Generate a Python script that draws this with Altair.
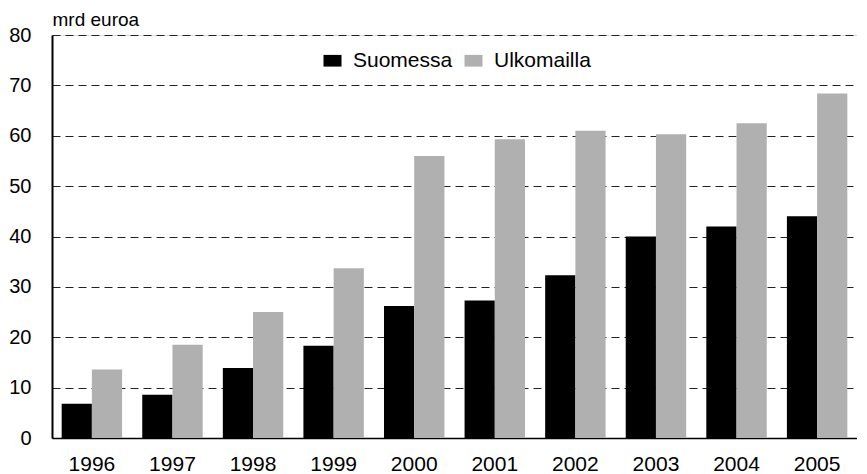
import altair as alt
import pandas as pd

years = ["1996", "1997", "1998", "1999", "2000", "2001", "2002", "2003", "2004", "2005"]
suomessa = [6.8, 8.6, 13.9, 18.3, 26.2, 27.3, 32.3, 40.0, 42.0, 44.0]
ulkomailla = [13.6, 18.5, 25.0, 33.7, 56.0, 59.3, 61.0, 60.3, 62.5, 68.4]
series = ["Suomessa", "Ulkomailla"]
colors = ["#000000", "#b0b0b0"]

rows = []
for i, y in enumerate(years):
    rows.append({"vuosi": y, "sarja": series[0], "arvo": suomessa[i]})
    rows.append({"vuosi": y, "sarja": series[1], "arvo": ulkomailla[i]})
df = pd.DataFrame(rows)

FONT = "Liberation Sans"

chart = alt.Chart(df).mark_bar().encode(
    x=alt.X("vuosi:N", sort=years, title=None,
            scale=alt.Scale(paddingInner=0.25, paddingOuter=0.12),
            axis=alt.Axis(labelAngle=0, ticks=False, domainColor="#000", domainWidth=1.5,
                          labelFontSize=21, labelColor="#000", labelPadding=15, labelFont=FONT)),
    xOffset=alt.XOffset("sarja:N", sort=series),
    y=alt.Y("arvo:Q", scale=alt.Scale(domain=[0, 80]),
            axis=alt.Axis(values=[0, 10, 20, 30, 40, 50, 60, 70, 80], ticks=False,
                          domainColor="#000", domainWidth=2,
                          grid=True, gridDash=[8, 5], gridColor="#222", gridWidth=1,
                          labelFontSize=20, labelColor="#000", labelPadding=21, labelFont=FONT,
                          title="mrd euroa", titleAngle=0, titleAlign="left", titleBaseline="alphabetic",
                          titleX=0, titleY=-10, titleFontSize=19, titleFontWeight="normal",
                          titleFont=FONT, titleColor="#000")),
    color=alt.Color("sarja:N", sort=series,
                    scale=alt.Scale(domain=series, range=colors),
                    legend=alt.Legend(title=None, orient="none", direction="horizontal",
                                      legendX=270, legendY=15,
                                      symbolType="M-1,-0.65H1V0.65H-1Z",
                                      symbolSize=324, symbolStrokeWidth=0,
                                      labelFontSize=21, labelFont=FONT, labelColor="#000",
                                      labelOffset=10, columnPadding=10, symbolOpacity=1)),
).properties(
    width=805, height=403,
    autosize=alt.AutoSizeParams(type="none"),
    padding={"left": 44, "top": 27, "right": 0, "bottom": 38},
).configure_view(stroke=None).configure(background="white")

chart.save("out.html", embed_options={"renderer": "svg", "actions": False})
